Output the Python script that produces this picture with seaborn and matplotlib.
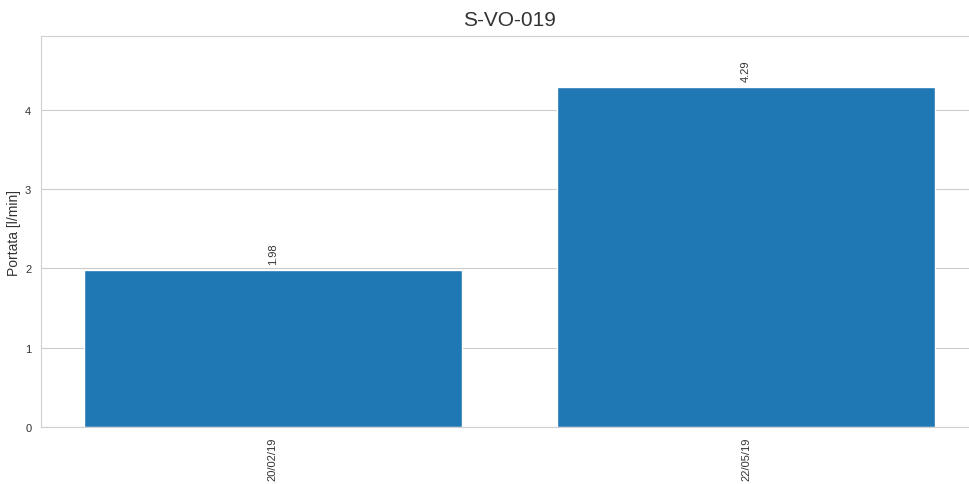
import matplotlib
matplotlib.use("Agg")
import matplotlib.pyplot as plt
import seaborn as sns
import pandas as pd

dates = ["20/02/19", "22/05/19"]
portata = [1.98, 4.29]
title = "S-VO-019"
ylabel = "Portata [l/min]"

sns.set_style("whitegrid")
plt.rcParams["font.family"] = ["Liberation Sans", "DejaVu Sans"]

df = pd.DataFrame({"data": dates, "portata": portata})

fig = plt.figure(figsize=(9.69, 4.85), dpi=100)
ax = fig.add_axes([41 / 969, 1 - 428 / 485, 937 / 969, (428 - 37) / 485])

sns.barplot(data=df, x="data", y="portata", color="#1f77b4", saturation=1,
            width=0.8, ax=ax)

for i, v in enumerate(portata):
    ax.text(i, v + 0.08, f"{v:.2f}", rotation=90, ha="center", va="bottom",
            fontsize=8, color="#333333")

ax.set_xlim(-0.49, 1.49)
ax.set_ylim(0, max(portata) * 1.15)
ax.set_yticks([0, 1, 2, 3, 4])
ax.tick_params(axis="x", rotation=90, labelsize=8, colors="#333333")
ax.tick_params(axis="y", labelsize=8, colors="#333333")
ax.set_xlabel("")
ax.set_ylabel(ylabel, fontsize=10, color="#333333", labelpad=3)
ax.set_title(title, fontsize=15, color="#333333", pad=8)
ax.grid(axis="x", visible=False)
for s in ax.spines.values():
    s.set_color("#d0d0d0")

fig.savefig("out.png", dpi=100)
